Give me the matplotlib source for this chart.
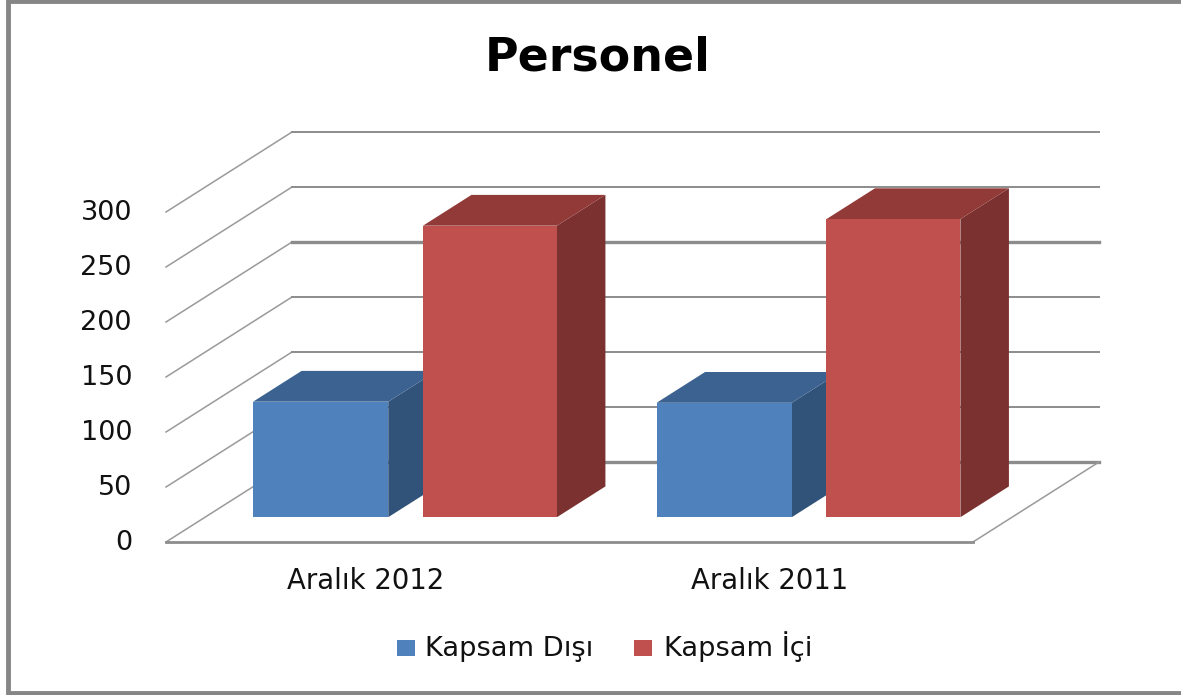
#Import relevant packages
import matplotlib
matplotlib.use('Agg')
import matplotlib.pyplot as plt
from matplotlib.patches import Polygon, Rectangle

plt.rcParams['font.family'] = ['DejaVu Sans']

#Values
categories = ['Aralık 2012', 'Aralık 2011']
series_names = ['Kapsam Dışı', 'Kapsam İçi']
kapsam_disi = [105, 104]
kapsam_ici = [265, 271]
ticks = [0, 50, 100, 150, 200, 250, 300]

#Colours: front, top, side
blue = ('#4f81bd', '#3c6291', '#325379')
red = ('#c0504d', '#923a38', '#7b312f')
grid_col = '#8c8c8c'

#Oblique projection of the chart box, in pixels
x0, y0 = 166, 542       # front left corner of the floor
cat_w = 403.5           # width of one category
dx, dy = 126, 80        # shift from the front to the back of the box
px_per_unit = 1.1


def project(cat, value, depth):
    """cat = position in category units, value = axis value, depth = 0 front, 1 back"""
    return (x0 + cat * cat_w + dx * depth, y0 - value * px_per_unit - dy * depth)


def draw_bar(ax, left, right, value, cols):
    """Draws one 3D bar: side, top and then the front face"""
    d0, d1 = 0.31, 0.695
    side = [project(right, 0, d0), project(right, value, d0),
            project(right, value, d1), project(right, 0, d1)]
    top = [project(left, value, d0), project(right, value, d0),
           project(right, value, d1), project(left, value, d1)]
    front = [project(left, 0, d0), project(right, 0, d0),
             project(right, value, d0), project(left, value, d0)]
    ax.add_patch(Polygon(side, closed=True, fc=cols[2], ec='none', zorder=5))
    ax.add_patch(Polygon(top, closed=True, fc=cols[1], ec='none', zorder=5))
    ax.add_patch(Polygon(front, closed=True, fc=cols[0], ec='none', zorder=5))


fig = plt.figure(figsize=(11.81, 6.95), dpi=100)
ax = fig.add_axes([0, 0, 1, 1])
ax.set_xlim(0, 1181)
ax.set_ylim(695, 0)
ax.axis('off')

#Outer frame
ax.add_patch(Rectangle((7.5, 1), 1180, 691.5, fc='white', ec='#868686', lw=3.5))

#Walls and floor
for t in ticks:
    pts = [project(0, t, 0), project(0, t, 1), project(2, t, 1)]
    lw = 2.4 if t in (0, 200) else 1.4
    ax.plot([p[0] for p in pts[:2]], [p[1] for p in pts[:2]], color='#9a9a9a', lw=1.1)
    ax.plot([p[0] for p in pts[1:]], [p[1] for p in pts[1:]], color=grid_col, lw=lw)
    ax.text(132, pts[0][1] + 8, str(t), ha='right', va='baseline', fontsize=19.5, color='#111111')
f = [project(2, 0, 1), project(2, 0, 0), project(0, 0, 0)]
ax.plot([f[0][0], f[1][0]], [f[0][1], f[1][1]], color='#9a9a9a', lw=1.1)
ax.plot([f[1][0], f[2][0]], [f[1][1], f[2][1]], color=grid_col, lw=2)

#Bars
for i in range(len(categories)):
    draw_bar(ax, i + 0.119, i + 0.454, kapsam_disi[i], blue)
    draw_bar(ax, i + 0.540, i + 0.872, kapsam_ici[i], red)
    ax.text(x0 + (i + 0.5) * cat_w - 2, 589, categories[i], ha='center', va='baseline', fontsize=19.8, color='#111111')

#Title and legend
ax.text(598, 58, 'Personel', ha='center', va='center', fontsize=33, fontweight='bold', color='black')
ax.add_patch(Rectangle((397, 640), 18, 16, fc=blue[0], ec='none'))
ax.text(425, 656, series_names[0], ha='left', va='baseline', fontsize=19.6, color='#111111')
ax.add_patch(Rectangle((634, 640), 18, 16, fc=red[0], ec='none'))
ax.text(664, 656, series_names[1], ha='left', va='baseline', fontsize=19.6, color='#111111')

plt.savefig('out.png', dpi=100)
